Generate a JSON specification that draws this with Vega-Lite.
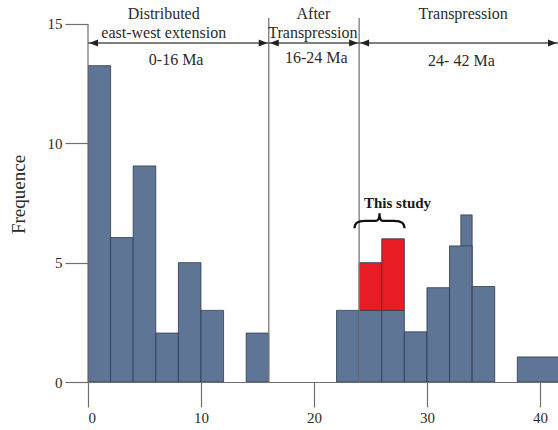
{
  "$schema": "https://vega.github.io/schema/vega-lite/v6.json",
  "autosize": "none",
  "width": 470,
  "height": 382,
  "padding": {"left": 88, "top": 0, "right": 0, "bottom": 48},
  "background": "white",
  "config": {
    "view": {"stroke": null},
    "font": "Liberation Serif",
    "axis": {"labelFont": "Liberation Serif", "titleFont": "Liberation Serif", "labelColor": "#2b2b2b", "titleColor": "#2b2b2b", "grid": false, "tickColor": "#6f6f6f", "domainColor": "#6f6f6f", "tickWidth": 1.2, "domainWidth": 1.2}
  },
  "datasets": {
    "bars": [
      {"from": 0, "to": 2, "low": 0, "high": 13.25, "group": "Published"},
      {"from": 2, "to": 4, "low": 0, "high": 6.05, "group": "Published"},
      {"from": 4, "to": 6, "low": 0, "high": 9.05, "group": "Published"},
      {"from": 6, "to": 8, "low": 0, "high": 2.05, "group": "Published"},
      {"from": 8, "to": 10, "low": 0, "high": 5, "group": "Published"},
      {"from": 10, "to": 12, "low": 0, "high": 3, "group": "Published"},
      {"from": 14, "to": 16, "low": 0, "high": 2.05, "group": "Published"},
      {"from": 22, "to": 24, "low": 0, "high": 3, "group": "Published"},
      {"from": 24, "to": 26, "low": 0, "high": 3, "group": "Published"},
      {"from": 26, "to": 28, "low": 0, "high": 3, "group": "Published"},
      {"from": 24, "to": 26, "low": 3, "high": 5, "group": "This study"},
      {"from": 26, "to": 28, "low": 3, "high": 6, "group": "This study"},
      {"from": 28, "to": 30, "low": 0, "high": 2.1, "group": "Published"},
      {"from": 30, "to": 32, "low": 0, "high": 3.95, "group": "Published"},
      {"from": 33, "to": 34, "low": 0, "high": 7, "group": "Published"},
      {"from": 32, "to": 34, "low": 0, "high": 5.7, "group": "Published"},
      {"from": 34, "to": 36, "low": 0, "high": 4, "group": "Published"},
      {"from": 38, "to": 42, "low": 0, "high": 1.05, "group": "Published"}
    ],
    "periods": [
      {"from": 0, "to": 16},
      {"from": 16, "to": 24},
      {"from": 24, "to": 41.6}
    ],
    "bounds": [{"at": 16}, {"at": 24}],
    "notes": [
      {"text": "Distributed", "x": 6.7, "y": 15.4},
      {"text": "east-west extension", "x": 6.7, "y": 14.62},
      {"text": "0-16 Ma", "x": 7.8, "y": 13.5},
      {"text": "After", "x": 19.95, "y": 15.4},
      {"text": "Transpression", "x": 19.9, "y": 14.62},
      {"text": "16-24 Ma", "x": 20.2, "y": 13.58},
      {"text": "Transpression", "x": 33.2, "y": 15.4},
      {"text": "24- 42 Ma", "x": 33.05, "y": 13.43}
    ],
    "study": [{"text": "This study", "x": 27.4, "y": 7.5, "braceX": 25.8, "braceY": 6.75}]
  },
  "layer": [
    {
      "data": {"name": "bars"},
      "mark": {"type": "rect", "stroke": "#2c3b50", "strokeWidth": 0.8, "clip": true},
      "encoding": {
        "x": {"field": "from", "type": "quantitative", "scale": {"domain": [0, 41.6], "nice": false},
          "axis": {"values": [0, 10, 20, 30, 40], "tickSize": 25, "labelPadding": 3, "labelFontSize": 15, "title": null, "domain": true}},
        "x2": {"field": "to"},
        "y": {"field": "low", "type": "quantitative", "scale": {"domain": [0, 16], "nice": false},
          "axis": {"values": [0, 5, 10, 15], "tickSize": 23, "labelPadding": 3, "labelFontSize": 15, "domain": false,
            "title": "Frequence", "titleFontSize": 19, "titleFontWeight": "normal", "titleAngle": -90,
            "titleX": -70, "titleY": 194, "titleAlign": "center", "titleBaseline": "middle"}},
        "y2": {"field": "high"},
        "fill": {"field": "group", "type": "nominal", "scale": {"domain": ["Published", "This study"], "range": ["#5f7595", "#e81c24"]}, "legend": null}
      }
    },
    {
      "data": {"values": [{}]},
      "mark": {"type": "rule", "color": "#6f6f6f", "strokeWidth": 1.2},
      "encoding": {"x": {"datum": 0}, "y": {"datum": 0}, "y2": {"datum": 15}}
    },
    {
      "data": {"name": "bounds"},
      "mark": {"type": "rule", "color": "#7a7a7a", "strokeWidth": 1.3},
      "encoding": {"x": {"field": "at", "type": "quantitative"}, "y": {"datum": 0}, "y2": {"datum": 15.25}}
    },
    {
      "data": {"name": "periods"},
      "mark": {"type": "rule", "color": "#555555", "strokeWidth": 1.3},
      "encoding": {"x": {"field": "from", "type": "quantitative"}, "x2": {"field": "to"}, "y": {"datum": 14.2}}
    },
    {
      "data": {"name": "periods"},
      "mark": {"type": "point", "shape": "M0.25,0L2,-0.7L2,0.7Z", "size": 100, "filled": true, "color": "#222222", "opacity": 1},
      "encoding": {"x": {"field": "from", "type": "quantitative"}, "y": {"datum": 14.2}}
    },
    {
      "data": {"name": "periods"},
      "mark": {"type": "point", "shape": "M-0.25,0L-2,-0.7L-2,0.7Z", "size": 100, "filled": true, "color": "#222222", "opacity": 1},
      "encoding": {"x": {"field": "to", "type": "quantitative"}, "y": {"datum": 14.2}}
    },
    {
      "data": {"name": "notes"},
      "mark": {"type": "text", "font": "Liberation Serif", "fontSize": 16, "color": "#2b2b2b", "baseline": "middle", "align": "center"},
      "encoding": {"x": {"field": "x", "type": "quantitative"}, "y": {"field": "y", "type": "quantitative"}, "text": {"field": "text"}}
    },
    {
      "data": {"name": "study"},
      "mark": {"type": "text", "font": "Liberation Serif", "fontSize": 15, "fontWeight": "bold", "color": "#1a1a1a", "baseline": "middle", "align": "center"},
      "encoding": {"x": {"field": "x", "type": "quantitative"}, "y": {"field": "y", "type": "quantitative"}, "text": {"field": "text"}}
    },
    {
      "data": {"name": "study"},
      "mark": {"type": "point", "shape": "M-1,0.3Q-1,0,-0.6,0L-0.14,0Q0,0,0,-0.3Q0,0,0.14,0L0.6,0Q1,0,1,0.3", "size": 2500, "filled": false, "color": "#111111", "strokeWidth": 2.2, "opacity": 1},
      "encoding": {"x": {"field": "braceX", "type": "quantitative"}, "y": {"field": "braceY", "type": "quantitative"}}
    }
  ]
}
